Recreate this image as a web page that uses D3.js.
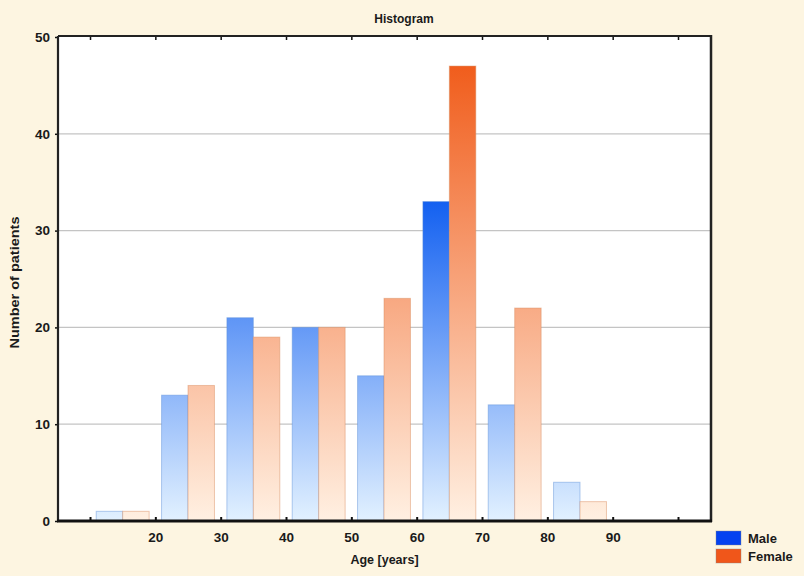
<!DOCTYPE html>
<html>
<head>
<meta charset="utf-8">
<script src="https://cdn.jsdelivr.net/npm/d3@7"></script>
<style>
  html, body { margin: 0; padding: 0; background: #fdf5e1; }
  svg { display: block; }
  text { font-family: "Liberation Sans", Arial, sans-serif; font-weight: bold; fill: #1a1a1a; }
</style>
</head>
<body>
<svg id="chart" width="804" height="576"></svg>
<script>
// ---- data ----
const binStarts = [10, 20, 30, 40, 50, 60, 70, 80];
const maleCounts = [1, 13, 21, 20, 15, 33, 12, 4];
const femaleCounts = [1, 14, 19, 20, 23, 47, 22, 2];
const xTickValues = [10, 20, 30, 40, 50, 60, 70, 80, 90, 100];
const xTickLabels = ["", "20", "30", "40", "50", "60", "70", "80", "90", ""];
const yTickValues = [0, 10, 20, 30, 40, 50];
const seriesNames = ["Male", "Female"];

// ---- layout ----
const W = 804, H = 576;
const pLeft = 58, pRight = 711, pTop = 36, pBottom = 521;
const svg = d3.select("#chart");
svg.append("rect").attr("width", W).attr("height", H).attr("fill", "#fdf5e1");

const x = d3.scaleLinear().domain([5.1, 105.05]).range([pLeft, pRight]);
const y = d3.scaleLinear().domain([0, 50]).range([pBottom, pTop + 1]);

// gradients
const defs = svg.append("defs");
function grad(id, light, dark, topVal) {
  const g = defs.append("linearGradient").attr("id", id)
    .attr("gradientUnits", "userSpaceOnUse")
    .attr("x1", 0).attr("x2", 0).attr("y1", y(0)).attr("y2", y(topVal));
  g.append("stop").attr("offset", 0).attr("stop-color", light);
  g.append("stop").attr("offset", 1).attr("stop-color", dark);
}
grad("gMale", "#e2f1ff", "#0d5cf0", 34);
grad("gFemale", "#fff0e2", "#f05a18", 48);

// plot background
svg.append("rect").attr("x", pLeft).attr("y", pTop).attr("width", pRight - pLeft).attr("height", pBottom - pTop).attr("fill", "#ffffff");

// gridlines
svg.append("g").selectAll("line").data(yTickValues.filter(v => v > 0 && v < 50)).join("line")
  .attr("x1", pLeft).attr("x2", pRight)
  .attr("y1", d => y(d)).attr("y2", d => y(d))
  .attr("stroke", "#c4c4c4").attr("stroke-width", 1.2);

// bars
const barW = 4.05; // in data units
const bars = svg.append("g");
bars.selectAll("rect.m").data(binStarts).join("rect").attr("class", "m")
  .attr("x", (d) => x(d + 5 - barW))
  .attr("width", (d) => x(d + 5) - x(d + 5 - barW))
  .attr("y", (d, i) => y(maleCounts[i]))
  .attr("height", (d, i) => y(0) - y(maleCounts[i]))
  .attr("fill", "url(#gMale)")
  .attr("stroke", "#5a8fd8").attr("stroke-opacity", 0.45).attr("stroke-width", 1);
bars.selectAll("rect.f").data(binStarts).join("rect").attr("class", "f")
  .attr("x", (d) => x(d + 5))
  .attr("width", (d) => x(d + 5 + barW) - x(d + 5))
  .attr("y", (d, i) => y(femaleCounts[i]))
  .attr("height", (d, i) => y(0) - y(femaleCounts[i]))
  .attr("fill", "url(#gFemale)")
  .attr("stroke", "#d88a5a").attr("stroke-opacity", 0.45).attr("stroke-width", 1);

// x axis (bottom, ticks inward)
const xAxis = d3.axisBottom(x).tickValues(xTickValues)
  .tickFormat((d, i) => xTickLabels[i]).tickSizeInner(-4).tickSizeOuter(0).tickPadding(11);
const gx = svg.append("g").attr("transform", `translate(0,${pBottom})`).call(xAxis);
gx.select(".domain").remove();
gx.selectAll(".tick line").attr("stroke", "#111").attr("stroke-width", 2);
gx.selectAll(".tick text").attr("font-size", 13.5).attr("font-family", "Liberation Sans, Arial, sans-serif").attr("font-weight", "bold").attr("fill", "#1a1a1a");

// top ticks (inward)
const xTop = d3.axisTop(x).tickValues(xTickValues).tickFormat("").tickSizeInner(-4).tickSizeOuter(0);
const gxt = svg.append("g").attr("transform", `translate(0,${pTop})`).call(xTop);
gxt.select(".domain").remove();
gxt.selectAll(".tick line").attr("stroke", "#111").attr("stroke-width", 1.5);

// y axis (ticks outward)
const yAxis = d3.axisLeft(y).tickValues(yTickValues).tickSizeInner(3).tickSizeOuter(0).tickPadding(5);
const gy = svg.append("g").attr("transform", `translate(${pLeft},0)`).call(yAxis);
gy.select(".domain").remove();
gy.selectAll(".tick line").attr("stroke", "#111").attr("stroke-width", 1.5);
gy.selectAll(".tick text").attr("font-size", 13.5).attr("font-family", "Liberation Sans, Arial, sans-serif").attr("font-weight", "bold").attr("fill", "#1a1a1a");

// frame
svg.append("line").attr("x1", pLeft).attr("x2", pRight).attr("y1", pTop).attr("y2", pTop).attr("stroke", "#222").attr("stroke-width", 2);
svg.append("line").attr("x1", pLeft).attr("x2", pLeft).attr("y1", pTop).attr("y2", pBottom).attr("stroke", "#222").attr("stroke-width", 2.2);
svg.append("line").attr("x1", pRight).attr("x2", pRight).attr("y1", pTop - 1).attr("y2", pBottom + 1).attr("stroke", "#222").attr("stroke-width", 2.5);
svg.append("line").attr("x1", pLeft - 1).attr("x2", pRight + 1).attr("y1", pBottom).attr("y2", pBottom).attr("stroke", "#111").attr("stroke-width", 2.8);

// titles
svg.append("text").attr("x", 404).attr("y", 22.5).attr("text-anchor", "middle").attr("font-size", 12).text("Histogram");
svg.append("text").attr("x", (pLeft + pRight) / 2).attr("y", 564).attr("text-anchor", "middle").attr("font-size", 12.5).text("Age [years]");
svg.append("text").attr("transform", `translate(19,${(pTop + pBottom) / 2 + 4}) rotate(-90)`).attr("text-anchor", "middle")
  .attr("font-size", 12.5).attr("textLength", 132).attr("lengthAdjust", "spacingAndGlyphs").text("Number of patients");

// legend
const legColors = ["#0442f0", "#f0561a"];
const leg = svg.append("g");
seriesNames.forEach((name, i) => {
  const ly = 531 + i * 18;
  leg.append("rect").attr("x", 716).attr("y", ly).attr("width", 25).attr("height", 14).attr("fill", legColors[i]).attr("stroke", "#888").attr("stroke-opacity", 0.4);
  leg.append("text").attr("x", 748).attr("y", ly + 11.5).attr("font-size", 13).text(name);
});
</script>
</body>
</html>
